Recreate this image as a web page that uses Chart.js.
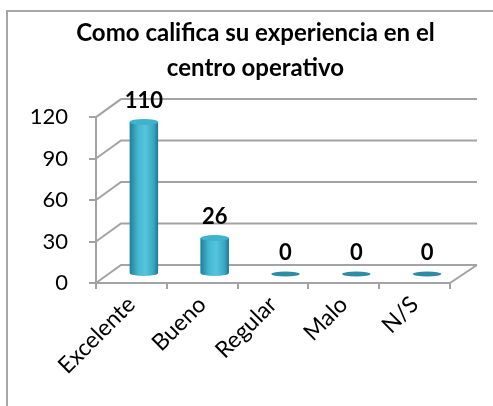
<!DOCTYPE html>
<html>
<head>
<meta charset="utf-8">
<script src="https://cdn.jsdelivr.net/npm/chart.js@4.4.0/dist/chart.umd.min.js"></script>
<style>
  html, body { margin: 0; padding: 0; background: #fff; }
  #wrap { position: relative; width: 493px; height: 406px; }
</style>
</head>
<body>
<div id="wrap"><canvas id="myChart" width="493" height="406"></canvas></div>
<script>
// chart data
var categories = ['Excelente', 'Bueno', 'Regular', 'Malo', 'N/S'];
var values = [110, 26, 0, 0, 0];
var yTicks = [0, 30, 60, 90, 120];
var titleLines = ['Como califica su experiencia en el', 'centro operativo'];

var FONT = 'Lato, "Open Sans", sans-serif';
var DX = 25, DY = 18; // depth of the fake 3d box
var GRID = '#a3a3a3';

function barGradient(ctx, cx, w) {
  var g = ctx.createLinearGradient(cx - w / 2, 0, cx + w / 2, 0);
  g.addColorStop(0, '#237f98');
  g.addColorStop(0.3, '#45b8d2');
  g.addColorStop(0.55, '#56c5de');
  g.addColorStop(0.85, '#3aa5c0');
  g.addColorStop(1, '#1f7690');
  return g;
}

// frame + back wall gridlines + cylinder shading
var wallPlugin = {
  id: 'wall',
  beforeDraw: function(chart) {
    var ctx = chart.ctx;
    ctx.save();
    ctx.strokeStyle = '#a6a6a6';
    ctx.lineWidth = 2;
    ctx.beginPath();
    ctx.moveTo(7, 406);
    ctx.lineTo(7, 11);
    ctx.lineTo(493, 11);
    ctx.stroke();
    ctx.restore();
  },
  beforeDatasetsDraw: function(chart) {
    var ctx = chart.ctx, a = chart.chartArea, ys = chart.scales.y;
    ctx.save();
    ctx.strokeStyle = GRID;
    ctx.lineWidth = 2;
    yTicks.forEach(function(v) {
      var y = ys.getPixelForValue(v);
      ctx.beginPath();
      ctx.moveTo(a.left, y);
      ctx.lineTo(a.left + DX, y - DY);
      ctx.lineTo(a.right + DX + 2, y - DY);
      ctx.stroke();
    });
    // floor right edge
    var yb = ys.getPixelForValue(0);
    ctx.beginPath();
    ctx.moveTo(a.right, yb);
    ctx.lineTo(a.right + DX + 2, yb - DY);
    ctx.stroke();
    ctx.restore();
    // push the bars to middle depth
    ctx.save();
    ctx.translate(DX / 2, -DY / 2);
  },
  afterDatasetsDraw: function(chart) {
    var ctx = chart.ctx;
    var meta = chart.getDatasetMeta(0);
    meta.data.forEach(function(el, i) {
      var w = el.width, x = el.x, top = el.y, base = el.base;
      if (values[i] === 0) {
        ctx.fillStyle = '#2e8ba4';
        ctx.beginPath();
        ctx.ellipse(x, base, w / 2, 2.5, 0, 0, Math.PI * 2);
        ctx.fill();
        return;
      }
      var g = barGradient(ctx, x, w);
      ctx.fillStyle = g;
      ctx.fillRect(x - w / 2, top, w, base - top);
      // rounded bottom
      ctx.beginPath();
      ctx.ellipse(x, base, w / 2, 3, 0, 0, Math.PI);
      ctx.fill();
      // top cap
      ctx.fillStyle = '#3fb2cd';
      ctx.beginPath();
      ctx.ellipse(x, top, w / 2, 3, 0, 0, Math.PI * 2);
      ctx.fill();
    });
    ctx.restore();

    // value labels
    ctx.save();
    ctx.fillStyle = '#000';
    ctx.font = 'bold 22px ' + FONT;
    ctx.textAlign = 'center';
    ctx.textBaseline = 'middle';
    meta.data.forEach(function(el, i) {
      ctx.fillText(String(values[i]), el.x + DX / 2, el.y - DY / 2 - 21);
    });
    ctx.restore();
  }
};

var ctx = document.getElementById('myChart').getContext('2d');
var myChart = new Chart(ctx, {
  type: 'bar',
  data: {
    labels: categories,
    datasets: [{
      data: values,
      backgroundColor: '#45b8d2',
      borderWidth: 0,
      categoryPercentage: 1,
      barPercentage: 0.4,
      clip: false
    }]
  },
  options: {
    responsive: false,
    animation: false,
    layout: { padding: { left: 18, right: 0, top: 0, bottom: 0 } },
    plugins: {
      legend: { display: false },
      tooltip: { enabled: false },
      title: {
        display: true,
        text: titleLines,
        color: '#000',
        font: { family: FONT, size: 24, weight: 'bold', lineHeight: 1.46 },
        padding: { top: 16, bottom: 31 }
      }
    },
    scales: {
      x: {
        grid: { display: true, offset: true, drawOnChartArea: false, tickLength: 6, color: GRID, lineWidth: 2 },
        border: { display: true, color: GRID, width: 2 },
        ticks: {
          color: '#000',
          font: { family: FONT, size: 23 },
          minRotation: 45,
          maxRotation: 45,
          padding: 2
        },
        afterFit: function(s) { s.height = 123; }
      },
      y: {
        min: 0,
        max: 120,
        grid: { drawOnChartArea: false, tickLength: 7, color: GRID, lineWidth: 2 },
        border: { display: true, color: GRID, width: 2 },
        ticks: {
          stepSize: 30,
          color: '#000',
          font: { family: FONT, size: 22 },
          padding: 21
        },
        afterFit: function(s) { s.width = 78; }
      },
      // empty right axis, only keeps room for the depth of the box
      yRight: {
        position: 'right',
        display: true,
        grid: { display: false },
        border: { display: false },
        ticks: { display: false },
        afterFit: function(s) { s.width = 43; }
      }
    }
  },
  plugins: [wallPlugin]
});
</script>
</body>
</html>
